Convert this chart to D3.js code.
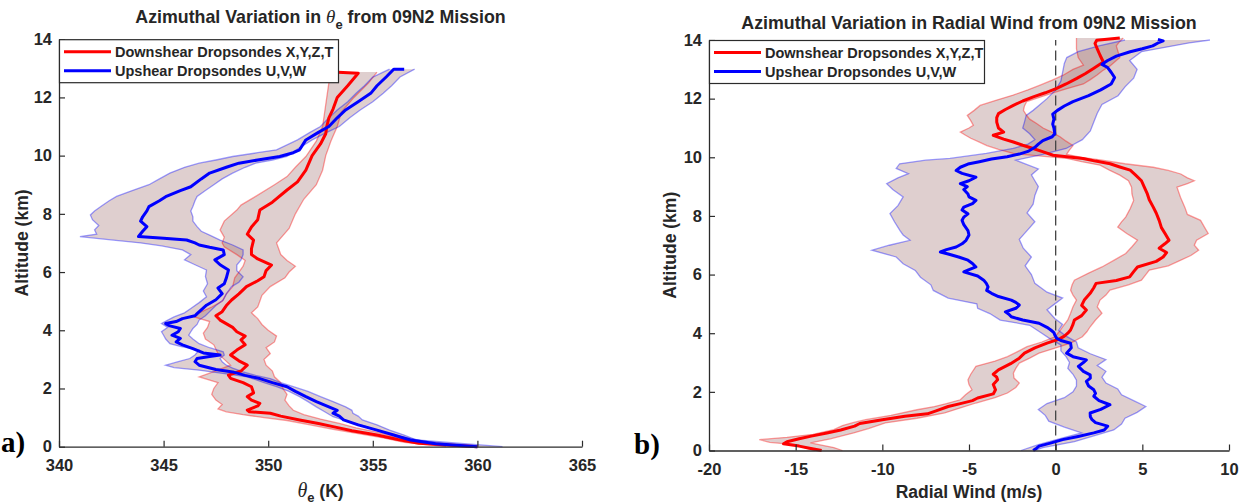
<!DOCTYPE html>
<html><head><meta charset="utf-8">
<script src="https://cdn.jsdelivr.net/npm/d3@7"></script>
<style>
body{margin:0;background:#fff}
svg{display:block}
text{font-family:Arial,"Liberation Sans",Helvetica,sans-serif;fill:#262626}
</style>
</head><body>
<svg id="c" width="1247" height="504"></svg>
<script>
// ---------- DATA: [altitude km, value] ----------
// Panel a: theta-e (K)
const thetaDownMean = [[0,360.0],[0.12,357.2],[0.25,356.2],[0.4,355.2],[0.55,354.0],[0.69,353.1],[0.8,352.4],[0.92,351.5],[1.05,350.6],[1.15,350.1],[1.2,349.1],[1.26,349.0],[1.4,349.5],[1.49,349.6],[1.6,349.2],[1.72,349.0],[1.85,349.3],[2.06,349.2],[2.2,348.8],[2.35,348.2],[2.46,348.1],[2.6,348.7],[2.8,349.0],[2.95,348.6],[3.15,348.2],[3.32,348.5],[3.5,348.9],[3.67,348.7],[3.8,348.9],[3.95,348.5],[4.1,348.3],[4.35,347.7],[4.5,347.5],[4.64,347.8],[4.85,348.0],[5.04,348.25],[5.25,348.6],[5.5,348.96],[5.7,349.5],[5.84,349.8],[6.05,349.9],[6.24,350.16],[6.45,349.5],[6.6,349.2],[6.8,349.2],[7.1,349.3],[7.3,349.0],[7.55,349.2],[7.8,349.5],[8.13,349.6],[8.4,350.2],[8.82,350.9],[9.1,351.4],[9.5,351.8],[10.0,352.1],[10.4,352.5],[10.75,352.75],[11.0,352.8],[11.3,352.9],[11.6,353.1],[12.0,353.3],[12.4,353.8],[12.83,354.3],[12.87,353.1]];
const thetaDownLow = [[0,358.5],[0.15,356.5],[0.3,355.5],[0.45,354.3],[0.6,353.1],[0.75,352.0],[0.9,350.9],[1.0,349.8],[1.1,348.8],[1.2,348.0],[1.3,347.6],[1.45,347.8],[1.6,347.5],[1.8,347.3],[2.0,347.4],[2.2,347.6],[2.4,346.7],[2.55,347.3],[2.8,348.2],[3.0,347.9],[3.2,347.6],[3.5,347.4],[3.7,347.0],[3.9,346.9],[4.1,347.1],[4.3,347.2],[4.45,346.5],[4.6,346.7],[4.8,347.3],[5.0,347.8],[5.25,348.0],[5.5,348.3],[5.8,348.4],[6.0,348.6],[6.2,348.8],[6.4,348.9],[6.6,348.5],[6.87,347.9],[7.0,347.8],[7.2,347.9],[7.45,347.7],[7.75,347.9],[8.13,348.5],[8.3,348.7],[8.6,349.4],[9.0,350.3],[9.28,350.9],[9.6,351.3],[9.97,351.8],[10.5,352.3],[11.0,352.6],[11.5,352.7],[12.0,352.8],[12.5,352.9],[12.87,353.0]];
const thetaDownHigh = [[0,359.5],[0.2,356.9],[0.35,356.0],[0.5,355.2],[0.65,354.2],[0.8,353.4],[0.95,352.5],[1.1,351.7],[1.25,351.2],[1.4,351.0],[1.6,350.8],[1.8,350.9],[2.0,350.7],[2.2,350.6],[2.4,350.3],[2.6,350.2],[2.8,349.9],[3.0,349.8],[3.2,350.1],[3.4,349.9],[3.6,350.3],[3.8,350.4],[4.0,350.0],[4.2,349.7],[4.4,349.5],[4.6,349.2],[4.8,349.5],[5.0,349.6],[5.2,349.7],[5.5,350.1],[5.8,350.8],[6.0,351.0],[6.2,351.3],[6.4,350.9],[6.6,350.6],[6.8,350.5],[7.0,350.4],[7.25,350.7],[7.5,351.0],[8.0,351.3],[8.5,351.7],[9.0,352.3],[9.5,352.6],[10.0,352.75],[10.5,353.0],[11.0,353.3],[11.5,353.5],[12.0,354.1],[12.5,354.8],[12.87,355.2]];
const thetaUpMean = [[0,360.0],[0.1,358.0],[0.23,356.8],[0.4,356.0],[0.57,355.2],[0.75,354.3],[0.92,353.6],[1.05,353.4],[1.15,353.1],[1.25,353.3],[1.37,352.9],[1.55,352.3],[1.72,351.8],[1.9,351.3],[2.06,350.9],[2.2,350.2],[2.34,349.6],[2.45,348.9],[2.57,348.3],[2.65,347.5],[2.8,346.7],[2.92,346.5],[3.03,346.6],[3.1,347.2],[3.15,347.7],[3.22,346.9],[3.37,346.4],[3.5,345.9],[3.6,345.6],[3.72,345.8],[3.83,345.4],[3.95,345.7],[4.06,345.8],[4.15,345.3],[4.23,345.1],[4.3,345.6],[4.4,345.9],[4.5,346.5],[4.57,346.6],[4.7,346.8],[4.86,347.05],[5.05,347.5],[5.26,347.8],[5.45,347.6],[5.6,347.9],[5.8,348.0],[6.07,348.1],[6.25,347.7],[6.42,347.45],[6.6,347.9],[6.76,347.85],[6.85,347.2],[6.93,346.7],[7.0,346.5],[7.1,346.1],[7.16,345.0],[7.22,343.8],[7.4,344.0],[7.56,344.2],[7.75,343.9],[7.9,344.0],[8.1,344.2],[8.25,344.3],[8.45,344.8],[8.59,345.1],[8.8,345.8],[8.93,346.3],[9.2,346.8],[9.4,347.2],[9.6,348.0],[9.74,348.6],[9.85,349.5],[9.97,350.55],[10.1,351.2],[10.2,351.5],[10.54,351.8],[10.8,352.4],[11.0,352.9],[11.3,353.3],[11.57,353.7],[11.85,354.3],[12.14,354.9],[12.4,355.2],[12.71,355.65],[12.97,356.0],[12.97,356.5]];
const thetaUpLow = [[0,359.5],[0.2,357.4],[0.35,356.3],[0.5,355.4],[0.69,354.7],[0.85,353.9],[1.03,353.1],[1.2,352.7],[1.37,352.3],[1.55,351.9],[1.72,351.5],[1.9,351.0],[2.06,350.4],[2.2,349.8],[2.4,349.0],[2.5,348.0],[2.63,346.7],[2.72,345.5],[2.8,345.1],[2.92,345.7],[3.03,346.25],[3.15,346.5],[3.32,346.7],[3.45,345.8],[3.54,345.3],[3.7,345.1],[3.83,345.0],[3.95,344.9],[4.1,345.2],[4.23,344.9],[4.35,345.2],[4.46,345.5],[4.6,346.0],[4.75,346.3],[4.95,346.7],[5.15,347.05],[5.35,346.9],[5.6,347.1],[5.85,347.0],[6.07,347.05],[6.25,346.5],[6.42,346.0],[6.6,346.3],[6.76,345.9],[6.9,344.9],[7.0,343.9],[7.1,342.6],[7.22,341.0],[7.3,341.8],[7.45,341.7],[7.6,341.9],[7.8,341.6],[7.96,341.5],[8.1,341.7],[8.25,342.0],[8.45,342.4],[8.6,342.75],[8.8,343.5],[9.0,344.3],[9.2,344.8],[9.4,345.3],[9.6,346.0],[9.74,346.7],[9.85,347.5],[9.97,348.3],[10.1,349.5],[10.2,350.4],[10.54,351.4],[10.8,352.0],[11.0,352.5],[11.3,352.9],[11.57,353.3],[11.85,353.8],[12.14,354.2],[12.4,354.6],[12.7,355.0],[12.97,355.8]];
const thetaUpHigh = [[0,361.2],[0.23,357.1],[0.4,356.5],[0.57,355.8],[0.75,355.2],[0.92,354.5],[1.05,354.3],[1.15,354.05],[1.25,354.0],[1.37,353.7],[1.55,353.1],[1.72,352.5],[1.9,351.9],[2.06,351.2],[2.2,350.6],[2.34,350.1],[2.45,349.4],[2.57,348.8],[2.7,348.3],[2.8,348.0],[2.92,347.8],[3.03,347.7],[3.15,347.9],[3.26,347.85],[3.4,347.2],[3.54,346.7],[3.7,346.4],[3.83,346.2],[3.95,346.3],[4.06,346.4],[4.2,346.6],[4.35,346.7],[4.5,347.0],[4.64,347.2],[4.85,347.5],[5.04,347.85],[5.25,348.0],[5.5,348.25],[5.65,348.6],[5.84,348.8],[6.05,348.5],[6.24,348.5],[6.42,348.7],[6.6,348.8],[6.76,348.8],[6.93,348.3],[7.1,347.7],[7.27,347.2],[7.4,346.8],[7.56,346.6],[7.75,346.4],[7.9,346.4],[8.1,346.3],[8.25,346.4],[8.45,346.5],[8.6,346.6],[8.8,347.0],[9.0,347.4],[9.2,347.8],[9.4,348.3],[9.6,348.9],[9.74,349.4],[9.85,350.2],[9.97,350.9],[10.2,351.35],[10.54,352.1],[10.8,352.8],[11.0,353.4],[11.3,353.9],[11.57,354.4],[11.85,355.0],[12.14,355.5],[12.4,355.9],[12.7,356.3],[12.97,357.0]];

// Panel b: radial wind (m/s)
const windDownMean = [[0,-13.5],[0.08,-14.2],[0.15,-14.8],[0.23,-15.7],[0.3,-15.5],[0.4,-14.8],[0.49,-14.1],[0.6,-13.2],[0.7,-12.4],[0.83,-11.6],[0.92,-11.3],[1.05,-10.0],[1.17,-8.7],[1.25,-7.4],[1.35,-6.9],[1.5,-6.2],[1.6,-5.5],[1.7,-4.8],[1.79,-4.5],[1.93,-3.6],[2.07,-3.47],[2.25,-3.6],[2.41,-3.35],[2.5,-3.4],[2.6,-3.6],[2.75,-3.3],[2.96,-2.6],[3.15,-2.1],[3.32,-1.8],[3.5,-1.2],[3.66,-0.5],[3.8,0.2],[3.9,0.5],[4.0,0.7],[4.11,0.86],[4.3,1.0],[4.45,1.08],[4.6,1.5],[4.79,1.77],[4.95,1.5],[5.13,1.65],[5.36,1.99],[5.55,2.2],[5.7,2.33],[5.8,3.5],[5.92,4.27],[6.1,4.5],[6.26,4.72],[6.45,5.8],[6.6,6.2],[6.75,6.4],[6.9,5.97],[7.05,6.3],[7.17,6.54],[7.4,6.31],[7.6,6.1],[7.85,5.97],[8.1,5.8],[8.3,5.63],[8.55,5.4],[8.75,5.29],[9.0,5.1],[9.2,4.95],[9.4,4.6],[9.56,4.3],[9.67,3.7],[9.78,3.14],[9.87,2.3],[9.96,1.58],[10.07,-0.15],[10.2,-0.8],[10.3,-1.3],[10.41,-1.9],[10.52,-2.44],[10.62,-3.0],[10.75,-3.6],[10.86,-3.0],[11.0,-3.3],[11.2,-3.4],[11.35,-3.4],[11.49,-3.3],[11.63,-2.9],[11.77,-2.44],[11.92,-1.9],[12.06,-1.29],[12.2,-0.6],[12.35,0.06],[12.5,0.6],[12.69,1.22],[12.85,1.7],[13.03,2.18],[13.25,2.75],[13.48,2.56],[13.7,2.4],[13.88,2.27],[13.99,2.37],[14.07,3.7]];
const windDownLow = [[0,-13.9],[0.1,-14.5],[0.2,-15.06],[0.28,-16.5],[0.37,-17.1],[0.45,-15.5],[0.55,-14.0],[0.71,-12.8],[0.85,-12.3],[0.95,-11.7],[1.05,-10.97],[1.2,-9.5],[1.39,-8.0],[1.5,-7.0],[1.6,-6.3],[1.73,-5.5],[1.9,-5.2],[2.07,-4.83],[2.25,-5.0],[2.41,-5.06],[2.6,-4.9],[2.87,-4.6],[3.05,-3.5],[3.2,-2.78],[3.37,-2.2],[3.54,-1.65],[3.7,-0.8],[3.88,-0.05],[4.05,0.2],[4.22,0.4],[4.45,0.7],[4.68,0.86],[4.9,1.0],[5.13,1.2],[5.3,1.0],[5.47,0.86],[5.65,0.95],[5.81,1.08],[6.05,1.9],[6.26,2.67],[6.5,3.4],[6.72,4.04],[6.95,4.4],[7.17,4.72],[7.4,4.1],[7.62,3.58],[7.8,3.8],[7.96,4.04],[8.25,4.3],[8.53,4.5],[8.75,4.4],[8.98,4.38],[9.2,4.2],[9.39,3.7],[9.56,3.1],[9.73,2.56],[9.85,1.5],[9.96,0.64],[10.05,-1.0],[10.13,-2.45],[10.27,-3.3],[10.4,-3.97],[10.52,-4.4],[10.65,-4.9],[10.75,-5.2],[10.86,-5.5],[11.0,-5.0],[11.09,-4.75],[11.25,-4.9],[11.43,-5.1],[11.6,-4.7],[11.77,-4.36],[11.95,-3.4],[12.12,-2.45],[12.3,-1.6],[12.46,-0.9],[12.63,-0.2],[12.8,0.43],[13.0,1.0],[13.14,1.6],[13.4,1.3],[13.7,1.2],[13.9,1.2],[14.07,1.2]];
const windDownHigh = [[0,-12.3],[0.1,-12.8],[0.26,-14.15],[0.4,-13.0],[0.6,-11.65],[0.75,-10.8],[0.94,-9.83],[1.1,-8.0],[1.28,-6.4],[1.45,-5.5],[1.62,-4.6],[1.8,-3.5],[1.96,-2.78],[2.15,-2.3],[2.3,-2.1],[2.47,-2.4],[2.64,-2.44],[2.8,-2.3],[2.98,-2.1],[3.15,-1.5],[3.32,-0.96],[3.5,0.0],[3.66,0.86],[3.88,1.54],[4.05,1.8],[4.22,1.99],[4.45,2.3],[4.68,2.67],[4.9,2.4],[5.13,2.56],[5.3,2.9],[5.47,3.13],[5.65,4.2],[5.81,4.95],[6.0,5.2],[6.15,5.4],[6.3,6.5],[6.49,7.22],[6.65,7.8],[6.83,8.25],[7.0,8.0],[7.17,8.13],[7.4,8.8],[7.6,8.6],[7.85,8.36],[8.05,7.6],[8.3,7.45],[8.64,7.2],[8.98,7.0],[9.1,7.6],[9.2,8.0],[9.3,7.6],[9.43,7.22],[9.55,6.5],[9.66,5.63],[9.78,4.0],[9.9,2.67],[10.0,1.5],[10.1,0.63],[10.25,0.8],[10.4,1.0],[10.55,0.6],[10.7,0.25],[10.85,-0.2],[11.0,-0.73],[11.15,-1.1],[11.3,-1.5],[11.45,-1.7],[11.6,-1.86],[11.75,-1.8],[11.9,-1.67],[12.05,-0.9],[12.2,-0.15],[12.35,0.7],[12.5,1.6],[12.65,2.0],[12.8,2.37],[12.95,2.7],[13.1,3.1],[13.25,3.4],[13.4,3.7],[13.6,3.6],[13.8,3.5],[13.95,3.7],[14.07,3.9]];
const windUpMean = [[0,-1.3],[0.08,-1.1],[0.15,-0.96],[0.25,-0.3],[0.37,0.4],[0.48,1.3],[0.6,2.2],[0.7,2.8],[0.83,3.0],[0.95,2.3],[1.05,2.1],[1.15,2.0],[1.28,1.99],[1.4,2.6],[1.56,3.13],[1.7,2.5],[1.85,2.2],[1.95,2.3],[2.07,2.2],[2.2,1.9],[2.36,1.77],[2.47,2.0],[2.58,1.99],[2.7,1.6],[2.87,1.31],[3.0,1.6],[3.09,1.77],[3.2,1.0],[3.32,0.63],[3.5,0.9],[3.66,0.86],[3.75,0.3],[3.83,0.06],[3.94,-0.05],[4.02,-0.1],[4.11,-0.28],[4.2,-0.5],[4.34,-0.96],[4.45,-1.9],[4.56,-2.56],[4.65,-2.7],[4.73,-2.9],[4.85,-2.3],[4.96,-2.1],[5.05,-2.3],[5.13,-2.56],[5.25,-3.3],[5.36,-3.7],[5.46,-3.98],[5.58,-3.9],[5.7,-4.0],[5.81,-4.15],[5.95,-4.5],[6.09,-5.3],[6.14,-5.1],[6.26,-4.6],[6.38,-4.8],[6.49,-5.06],[6.6,-5.6],[6.7,-6.2],[6.77,-6.65],[6.85,-6.3],[6.94,-5.74],[7.05,-5.4],[7.17,-5.17],[7.35,-5.0],[7.5,-5.06],[7.7,-5.3],[7.85,-5.4],[7.96,-5.3],[8.07,-5.06],[8.2,-5.4],[8.3,-5.3],[8.42,-4.8],[8.53,-4.6],[8.65,-5.0],[8.75,-5.06],[8.9,-5.3],[9.0,-5.1],[9.1,-5.5],[9.2,-5.0],[9.32,-4.6],[9.45,-5.4],[9.55,-5.74],[9.66,-5.5],[9.77,-5.06],[9.85,-4.4],[9.94,-3.7],[10.02,-2.8],[10.11,-2.1],[10.2,-1.6],[10.34,-1.2],[10.45,-1.0],[10.57,-0.74],[10.7,-0.2],[10.8,-0.05],[11.0,-0.1],[11.13,-0.17],[11.3,-0.1],[11.47,-0.17],[11.6,0.1],[11.75,0.5],[11.9,1.0],[12.1,1.9],[12.3,2.6],[12.5,3.2],[12.72,3.4],[12.9,3.2],[13.06,3.0],[13.17,2.67],[13.3,3.0],[13.45,3.5],[13.6,4.3],[13.7,5.0],[13.8,5.6],[13.9,5.9],[13.97,6.2],[14.02,5.9]];
const windUpLow = [[0,-2.0],[0.2,-1.0],[0.4,0.2],[0.6,1.5],[0.8,0.5],[1.0,-0.4],[1.2,-0.6],[1.4,-1.0],[1.6,-0.5],[1.8,0.5],[2.0,1.0],[2.2,1.2],[2.4,1.2],[2.6,1.0],[2.8,0.7],[3.0,0.8],[3.2,0.6],[3.4,0.3],[3.6,0.3],[3.8,-0.3],[4.0,-0.8],[4.27,-1.5],[4.45,-3.2],[4.67,-3.8],[4.85,-4.5],[5.0,-4.55],[5.2,-6.2],[5.46,-7.06],[5.65,-7.2],[5.91,-7.8],[6.14,-8.1],[6.37,-8.8],[6.6,-9.2],[6.83,-10.6],[7.0,-9.6],[7.17,-8.4],[7.35,-8.8],[7.5,-8.98],[7.8,-9.3],[8.08,-9.56],[8.35,-9.1],[8.65,-8.8],[8.9,-9.4],[9.1,-9.75],[9.3,-9.1],[9.44,-8.5],[9.62,-9.2],[9.78,-9.0],[9.9,-7.5],[9.96,-6.1],[10.13,-4.0],[10.3,-2.45],[10.45,-1.6],[10.6,-1.2],[10.8,-1.5],[11.0,-1.9],[11.2,-1.8],[11.43,-1.7],[11.6,-1.3],[11.8,-0.9],[12.0,-0.5],[12.3,0.0],[12.6,0.3],[12.9,0.4],[13.2,0.5],[13.4,0.64],[13.6,1.3],[13.8,2.5],[14.0,4.0]];
const windUpHigh = [[0,-1.2],[0.1,-0.74],[0.3,1.08],[0.5,2.2],[0.7,3.35],[0.9,3.8],[1.1,4.0],[1.3,4.7],[1.5,5.2],[1.7,4.5],[1.9,3.8],[2.1,3.58],[2.3,2.9],[2.5,2.67],[2.7,2.9],[2.9,2.4],[3.1,2.9],[3.3,2.0],[3.5,1.3],[3.7,1.2],[3.9,0.6],[4.1,0.17],[4.3,0.4],[4.5,-0.05],[4.8,-0.5],[5.0,-0.05],[5.2,0.4],[5.4,-0.5],[5.7,-1.2],[6.0,-1.4],[6.3,-1.76],[6.6,-1.4],[6.9,-1.87],[7.2,-2.1],[7.5,-1.65],[7.8,-1.2],[8.1,-1.65],[8.4,-1.3],[8.7,-1.2],[9.0,-1.0],[9.2,-1.2],[9.4,-1.4],[9.6,-1.0],[9.8,-1.87],[9.9,-2.3],[10.1,-0.74],[10.3,0.6],[10.6,1.54],[10.9,2.0],[11.2,2.2],[11.5,2.4],[11.8,2.67],[12.1,3.6],[12.4,4.0],[12.7,4.5],[13.0,4.7],[13.3,4.27],[13.6,4.95],[13.9,7.7],[14.0,8.9]];

// Axes ticks / labels
const thetaTicks = [340,345,350,355,360,365];
const windTicks = [-20,-15,-10,-5,0,5,10];
const altTicks = [0,2,4,6,8,10,12,14];
const legendLabels = ["Downshear Dropsondes X,Y,Z,T","Upshear Dropsondes U,V,W"];

// ---------- DRAWING ----------
const svg = d3.select('#c');
const RED = '#ff0000', BLUE = '#0000ff';
const AX = '#2b2b2b';
const FONT = 'Arial,"Liberation Sans",Helvetica,sans-serif';
const SERIF = '"Liberation Serif","Times New Roman",serif';

function panel(o){
  const g = svg.append('g');
  const x = d3.scaleLinear().domain(o.xdom).range([o.x0,o.x1]);
  const y = d3.scaleLinear().domain([0,14]).range([o.y0,o.y1]);
  const line = d3.line().x(d=>x(d[1])).y(d=>y(d[0]));

  [[o.dLow,o.dHigh],[o.uLow,o.uHigh]].forEach(([lo,hi])=>{
    g.append('path').attr('d', line(lo.concat(hi.slice().reverse()))+'Z')
      .attr('fill','rgb(150,95,95)').attr('fill-opacity',0.3).attr('stroke','none');
  });
  [[o.dLow,RED],[o.dHigh,RED],[o.uLow,BLUE],[o.uHigh,BLUE]].forEach(([s,c])=>{
    g.append('path').attr('d',line(s)).attr('fill','none').attr('stroke',c)
      .attr('stroke-opacity',0.38).attr('stroke-width',1.3);
  });
  if(o.zeroLine){
    g.append('line').attr('x1',x(0)).attr('x2',x(0)).attr('y1',y(0)).attr('y2',y(14))
      .attr('stroke','#444').attr('stroke-width',1.3).attr('stroke-dasharray','10,5');
  }
  g.append('path').attr('d',line(o.dMean)).attr('fill','none').attr('stroke',RED).attr('stroke-width',3).attr('stroke-linejoin','round');
  g.append('path').attr('d',line(o.uMean)).attr('fill','none').attr('stroke',BLUE).attr('stroke-width',3).attr('stroke-linejoin','round');

  const xa = g.append('g').attr('transform',`translate(0,${o.y0})`)
    .call(d3.axisBottom(x).tickValues(o.xticks).tickFormat(d=>String(d)).tickSize(-6).tickSizeOuter(0).tickPadding(12.5));
  const ya = g.append('g').attr('transform',`translate(${o.x0},0)`)
    .call(d3.axisLeft(y).tickValues(altTicks).tickFormat(d=>String(d)).tickSize(-6).tickSizeOuter(0).tickPadding(7));
  [xa,ya].forEach(a=>{
    a.attr('font-family',null).attr('font-size',null);
    a.select('.domain').attr('stroke',AX).attr('stroke-width',1.3);
    a.selectAll('.tick line').attr('stroke',AX).attr('stroke-width',1.2);
    a.selectAll('.tick text').attr('fill','#262626').style('font-size','16.5px').style('font-weight','bold')
      .style('font-family',FONT);
  });

  const lx = o.x0, ly = y(14), lw = o.legW, lh = 43;
  const lg = g.append('g');
  lg.append('rect').attr('x',lx+0.5).attr('y',ly+0.5).attr('width',lw).attr('height',lh)
    .attr('fill','#fff').attr('stroke',AX).attr('stroke-width',1.2);
  [[RED,legendLabels[0]],[BLUE,legendLabels[1]]].forEach(([c,t],i)=>{
    const yy = ly + 12.5 + i*19;
    lg.append('line').attr('x1',lx+5).attr('x2',lx+52).attr('y1',yy).attr('y2',yy).attr('stroke',c).attr('stroke-width',3);
    lg.append('text').attr('x',lx+56).attr('y',yy+5).text(t)
      .style('font-size','14.5px').style('font-weight','bold');
  });

  g.append('text').attr('transform',`translate(${o.ylabX},${(o.y0+o.y1)/2}) rotate(-90)`)
    .attr('text-anchor','middle').style('font-size','17.5px').style('font-weight','bold').text('Altitude (km)');
  return {g,x,y};
}

panel({xdom:[340,365], x0:59, x1:582, y0:446.7, y1:39.2, xticks:thetaTicks,
  dMean:thetaDownMean,dLow:thetaDownLow,dHigh:thetaDownHigh,uMean:thetaUpMean,uLow:thetaUpLow,uHigh:thetaUpHigh,
  legW:279, ylabX:28, zeroLine:false});
panel({xdom:[-20,10], x0:709, x1:1229, y0:450.5, y1:40, xticks:windTicks,
  dMean:windDownMean,dLow:windDownLow,dHigh:windDownHigh,uMean:windUpMean,uLow:windUpLow,uHigh:windUpHigh,
  legW:275, ylabX:676, zeroLine:true});

// titles
const t1 = svg.append('text').attr('x',(59+582)/2).attr('y',23).attr('text-anchor','middle')
  .style('font-size','17.8px').style('font-weight','bold');
t1.append('tspan').text('Azimuthal Variation in ');
t1.append('tspan').style('font-style','italic').style('font-family',SERIF).style('font-weight','normal').style('font-size','19px').text('θ');
t1.append('tspan').attr('dy',6).style('font-size','13px').text('e');
t1.append('tspan').attr('dy',-6).text(' from 09N2 Mission');

svg.append('text').attr('x',(709+1229)/2).attr('y',29).attr('text-anchor','middle')
  .style('font-size','17.8px').style('font-weight','bold').text('Azimuthal Variation in Radial Wind from 09N2 Mission');

// x labels
const xl1 = svg.append('text').attr('x',(59+582)/2).attr('y',497).attr('text-anchor','middle')
  .style('font-size','17.5px').style('font-weight','bold');
xl1.append('tspan').style('font-style','italic').style('font-family',SERIF).style('font-weight','normal').style('font-size','20px').text('θ');
xl1.append('tspan').attr('dy',5).style('font-size','13px').text('e');
xl1.append('tspan').attr('dy',-5).text(' (K)');

svg.append('text').attr('x',(709+1229)/2).attr('y',498).attr('text-anchor','middle')
  .style('font-size','17.5px').style('font-weight','bold').text('Radial Wind (m/s)');

// panel letters
svg.append('text').attr('x',1).attr('y',452).style('font-family',SERIF)
  .style('font-size','29px').style('font-weight','bold').style('fill','#000').text('a)');
svg.append('text').attr('x',634).attr('y',454).style('font-family',SERIF)
  .style('font-size','29px').style('font-weight','bold').style('fill','#000').text('b)');
</script>
</body></html>
